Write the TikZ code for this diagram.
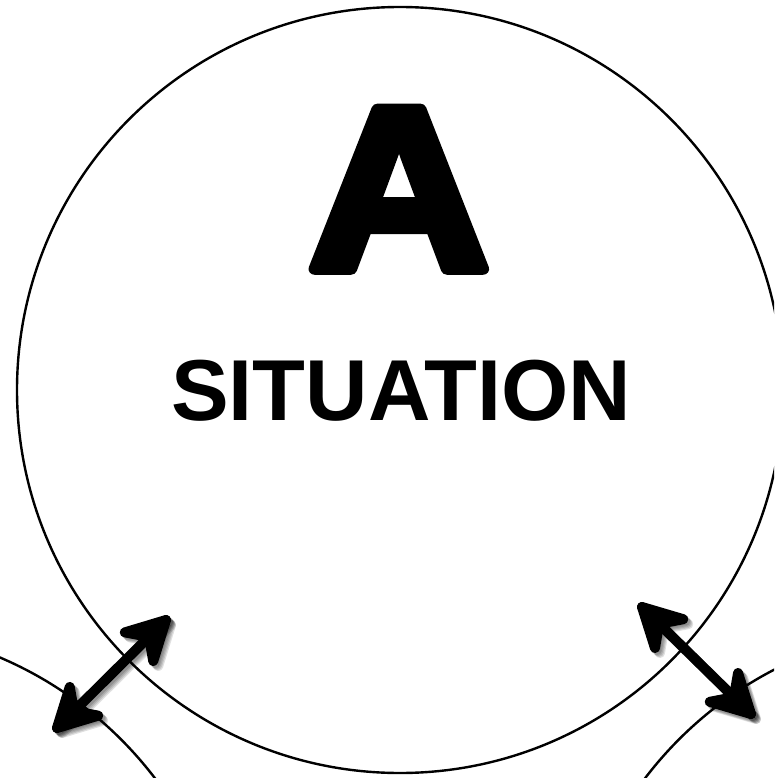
\documentclass[tikz,border=0pt]{standalone}
\usepackage{fontspec}
\setmainfont{Liberation Sans}
\newfontfamily\heavyfont[FakeBold=5]{Liberation Sans Bold}
\usetikzlibrary{calc}
\newcommand\biarrow[3]{%
  \draw[#3] (#1) -- (#2);
  \filldraw[#3] ($(#1)!43pt!28:(#2)$) -- (#1) -- ($(#1)!43pt!-28:(#2)$)
     -- ($(#1)!24pt!0:(#2)$) -- cycle;
  \filldraw[#3] ($(#2)!43pt!28:(#1)$) -- (#2) -- ($(#2)!43pt!-28:(#1)$)
     -- ($(#2)!24pt!0:(#1)$) -- cycle;
}
\begin{document}
\begin{tikzpicture}[x=1pt,y=-1pt,line join=round]
\tikzset{
  ring/.style={draw, line width=2.4pt, circle, minimum size=766pt, inner sep=0pt},
  arrowline/.style={line width=10pt, line cap=round, line join=round},
  shadowline/.style={arrowline, draw=black, fill=black, opacity=0.12},
  bigletter/.style={anchor=base, inner sep=0pt, xscale=1.08, font=\heavyfont\fontsize{232}{232}\selectfont},
  title/.style={anchor=base, inner sep=0pt, font=\bfseries\fontsize{86.5}{86.5}\selectfont}
}
\useasboundingbox (0,0) rectangle (774,778);
\clip (0,0) rectangle (774,778);
\fill[white] (0,0) rectangle (774,778);
% circles
\node[ring] (sit) at (400,390) {};
\node[ring] (bl) at (-150,1010) {};
\node[ring] (br) at (950,1010) {};
% arrow end points
\coordinate (l1) at (57,728);
\coordinate (l2) at (166,620);
\coordinate (r1) at (642,607);
\coordinate (r2) at (751,714);
% arrow shadows
\foreach \d in {2,3,4,5}{
  \begin{scope}[transform canvas={shift={(\d pt,-\d pt)}}]
    \biarrow{l1}{l2}{shadowline}
    \biarrow{r1}{r2}{shadowline}
  \end{scope}
}
\biarrow{l1}{l2}{arrowline}
\biarrow{r1}{r2}{arrowline}
% letters
\node[bigletter] (lettera) at (399,269) {A};
\node[title] (sitlabel) at (401,420) {SITUATION};
\end{tikzpicture}
\end{document}
